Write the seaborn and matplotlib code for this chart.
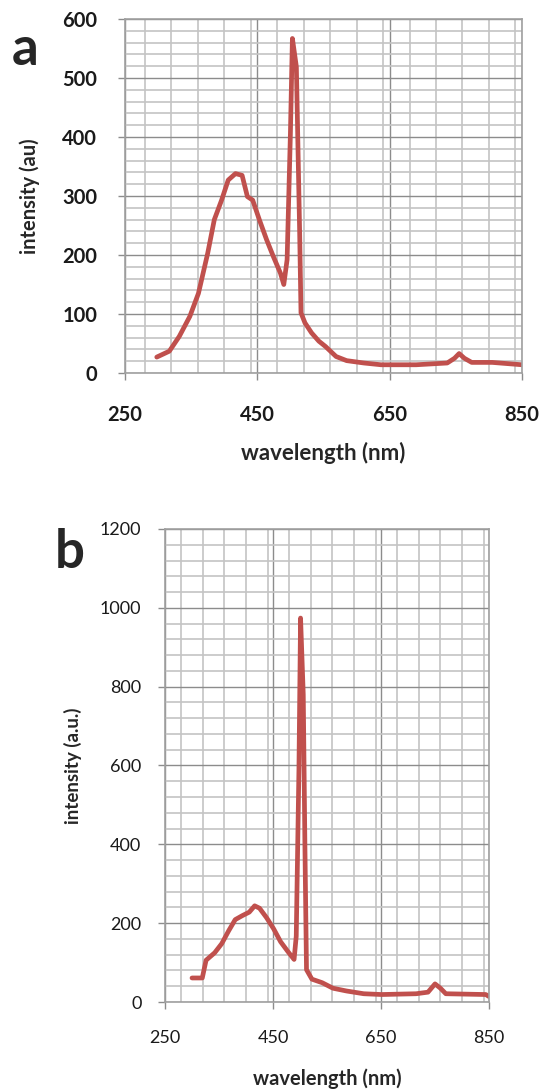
import matplotlib
matplotlib.use('Agg')
import matplotlib.pyplot as plt
from matplotlib.ticker import MultipleLocator
import seaborn as sns
import pandas as pd

sns.set_style('white')
plt.rcParams['font.family'] = ['Lato', 'DejaVu Sans']

## (a) 스펙트럼 - 눈으로 읽은 값
wl_a = [298, 317, 332, 348, 361, 375, 385, 396, 406, 417, 427, 435, 443, 453, 464,
        474, 485, 490, 495, 500, 503, 509, 514, 516, 522, 532, 543, 553, 569, 585,
        611, 637, 690, 737, 748, 755, 763, 774, 805, 850]
int_a = [27, 37, 62, 96, 135, 203, 260, 293, 327, 338, 335, 299, 293, 260, 226,
         198, 169, 150, 192, 406, 567, 519, 237, 102, 85, 68, 54, 45, 28, 21,
         17, 14, 14, 17, 25, 33, 25, 18, 18, 14]

## (b) 스펙트럼
wl_b = [300, 319, 326, 342, 355, 368, 380, 393, 406, 416, 425, 438, 451, 464, 477,
        489, 493, 498, 501, 506, 509, 512, 522, 541, 561, 586, 618, 651, 715, 737,
        750, 760, 770, 844, 850]
int_b = [61, 61, 106, 125, 148, 181, 209, 219, 228, 244, 238, 214, 186, 153, 129,
         108, 167, 592, 974, 780, 403, 82, 58, 49, 35, 28, 21, 19, 21, 25,
         46, 35, 21, 19, 14]

xticks = [250, 450, 650, 850]

df_a = pd.DataFrame({'wavelength': wl_a, 'intensity': int_a})
df_b = pd.DataFrame({'wavelength': wl_b, 'intensity': int_b})

red = '#c0504d'

fig = plt.figure(figsize=(5.43, 10.92), dpi=100)
ax_a = fig.add_axes([0.2302, 0.6584, 0.7311, 0.3242])
ax_b = fig.add_axes([0.3039, 0.0824, 0.5967, 0.4332])


def style_ax(ax, ymax, ymajor, yminor, bold):
    ax.set_xlim(250, 850)
    ax.set_ylim(0, ymax)
    ax.set_xticks(xticks)
    ax.xaxis.set_minor_locator(MultipleLocator(40))
    ax.yaxis.set_major_locator(MultipleLocator(ymajor))
    ax.yaxis.set_minor_locator(MultipleLocator(yminor))
    ax.grid(which='minor', color='#c4c4c4', lw=1.2)
    ax.grid(which='major', color='#8c8c8c', lw=1.0)
    ax.set_axisbelow(True)
    for s in ax.spines.values():
        s.set_color('#a0a0a0')
        s.set_linewidth(1.2)
    ax.tick_params(which='major', direction='out', length=5, width=1,
                   color='#8c8c8c', left=True, bottom=True)
    ax.tick_params(which='minor', length=0)
    w = 'bold' if bold else 'normal'
    for lab in ax.get_xticklabels() + ax.get_yticklabels():
        lab.set_fontweight(w)
        lab.set_color('#1a1a1a')


sns.lineplot(data=df_a, x='wavelength', y='intensity', ax=ax_a, color=red, lw=3.4)
style_ax(ax_a, 600, 100, 20, True)
ax_a.tick_params(axis='y', labelsize=14.5, pad=15)
ax_a.tick_params(axis='x', labelsize=14.5, pad=18)
ax_a.set_xlabel('wavelength (nm)', fontsize=16, fontweight='bold', labelpad=12)
ax_a.set_ylabel('intensity (au)', fontsize=14.5, fontweight='bold', labelpad=16)
fig.text(0.022, 0.955, 'a', fontsize=38, fontweight='bold', va='center', ha='left')

sns.lineplot(data=df_b, x='wavelength', y='intensity', ax=ax_b, color=red, lw=3.4)
style_ax(ax_b, 1200, 200, 40, False)
ax_b.tick_params(axis='y', labelsize=13, pad=12)
ax_b.tick_params(axis='x', labelsize=13, pad=15)
ax_b.set_xlabel('wavelength (nm)', fontsize=14.5, fontweight='bold', labelpad=16)
ax_b.set_ylabel('intensity (a.u.)', fontsize=13.5, fontweight='bold', labelpad=13)
fig.text(0.1, 0.494, 'b', fontsize=38, fontweight='bold', va='center', ha='left')

fig.savefig('out.png', dpi=100)
